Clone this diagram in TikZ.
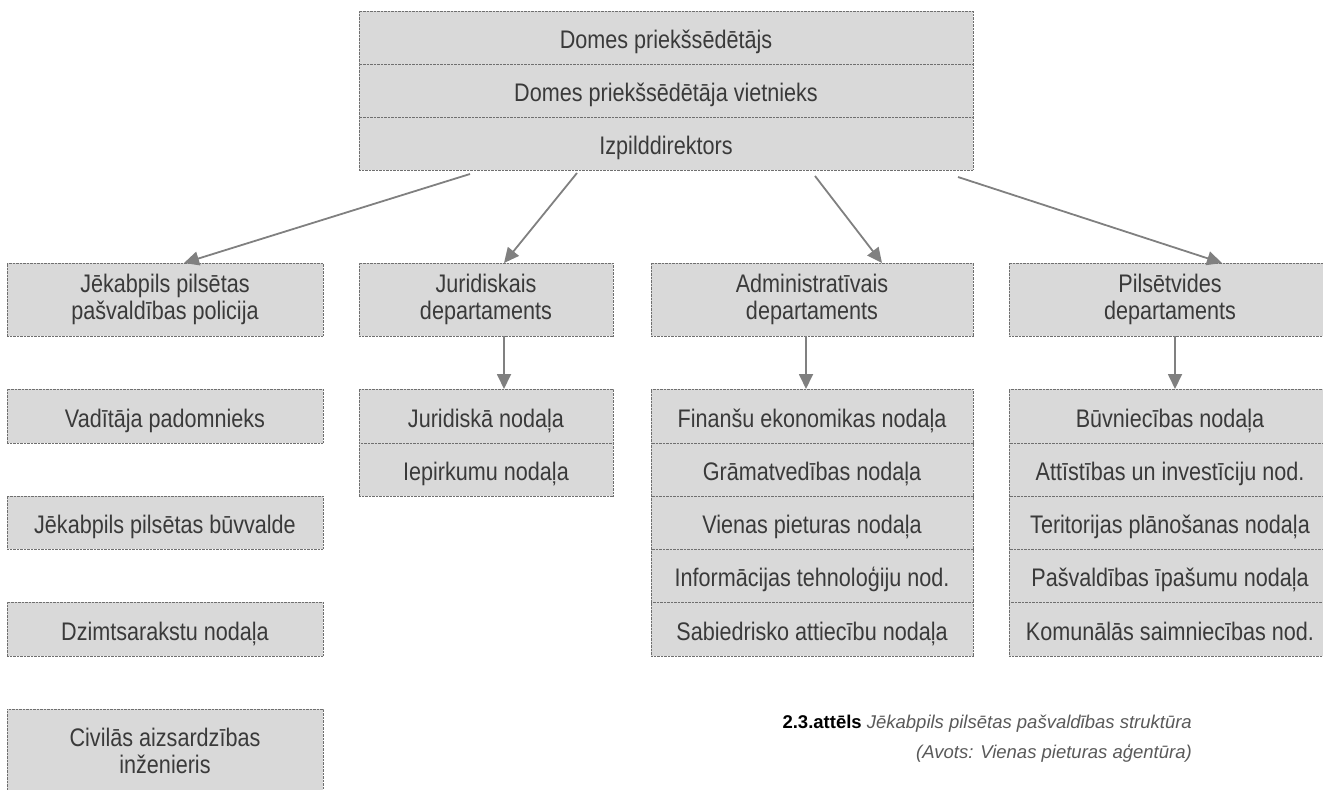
\documentclass[tikz,border=0pt]{standalone}
\usepackage{fontspec}
\setmainfont{Liberation Sans}[FakeStretch=0.85]
\newfontfamily\capfont{Liberation Sans}
\usetikzlibrary{arrows.meta}
\definecolor{boxfill}{HTML}{D9D9D9}
\definecolor{boxline}{HTML}{6F6F6F}
\definecolor{txt}{HTML}{3A3A3A}
\definecolor{arrgray}{HTML}{808080}
\definecolor{capgray}{HTML}{595959}
\begin{document}
\begin{tikzpicture}[x=1pt,y=-1pt,
  box/.style={draw=boxline, fill=boxfill, dash pattern=on 0.7pt off 0.7pt, line width=0.8pt,
    inner sep=0pt, outer sep=0pt, text=txt, font=\fontsize{25.4}{27}\selectfont, align=center, anchor=north west},
  one/.style={text height=26pt, text depth=4pt},
  arr/.style={draw=arrgray, line width=1.8pt, -{Triangle[length=15pt,width=14pt]}},
  captext/.style={anchor=base east, inner sep=0pt, font=\capfont\fontsize{18.5}{22}\selectfont}]
\useasboundingbox (0,0) rectangle (1323,790);
% top block
\node[box,one,minimum width=614pt,minimum height=53pt] (t1) at (359,11) {Domes priekšsēdētājs};
\node[box,one,minimum width=614pt,minimum height=53pt] (t2) at (359,64) {Domes priekšsēdētāja vietnieks};
\node[box,one,minimum width=614pt,minimum height=53pt] (t3) at (359,117) {Izpilddirektors};
% level 2
\node[box,minimum width=316pt,minimum height=73pt] (pol) at (7,263) {Jēkabpils pilsētas\\pašvaldības policija};
\node[box,minimum width=254pt,minimum height=73pt] (jur) at (359,263) {Juridiskais\\departaments};
\node[box,minimum width=322pt,minimum height=73pt] (adm) at (651,263) {Administratīvais\\departaments};
\node[box,minimum width=322pt,minimum height=73pt] (pil) at (1009,263) {Pilsētvides\\departaments};
% left column
\node[box,one,minimum width=316pt,minimum height=54pt] (vp) at (7,389) {Vadītāja padomnieks};
\node[box,one,minimum width=316pt,minimum height=53pt] (bv) at (7,496) {Jēkabpils pilsētas būvvalde};
\node[box,one,minimum width=316pt,minimum height=54pt] (dz) at (7,602) {Dzimtsarakstu nodaļa};
\node[box,minimum width=316pt,minimum height=83pt] (ci) at (7,709) {Civilās aizsardzības\\inženieris};
% juridiskais
\node[box,one,minimum width=254pt,minimum height=54pt] (jn) at (359,389) {Juridiskā nodaļa};
\node[box,one,minimum width=254pt,minimum height=53pt] (ie) at (359,443) {Iepirkumu nodaļa};
% administrativais
\node[box,one,minimum width=322pt,minimum height=54pt] (fe) at (651,389) {Finanšu ekonomikas nodaļa};
\node[box,one,minimum width=322pt,minimum height=53pt] (gr) at (651,443) {Grāmatvedības nodaļa};
\node[box,one,minimum width=322pt,minimum height=53pt] (vi) at (651,496) {Vienas pieturas nodaļa};
\node[box,one,minimum width=322pt,minimum height=53pt] (it) at (651,549) {Informācijas tehnoloģiju nod.};
\node[box,one,minimum width=322pt,minimum height=54pt] (sa) at (651,602) {Sabiedrisko attiecību nodaļa};
% pilsetvides
\node[box,one,minimum width=322pt,minimum height=54pt] (bu) at (1009,389) {Būvniecības nodaļa};
\node[box,one,minimum width=322pt,minimum height=53pt] (ai) at (1009,443) {Attīstības un investīciju nod.};
\node[box,one,minimum width=322pt,minimum height=53pt] (tp) at (1009,496) {Teritorijas plānošanas nodaļa};
\node[box,one,minimum width=322pt,minimum height=53pt] (pi) at (1009,549) {Pašvaldības īpašumu nodaļa};
\node[box,one,minimum width=322pt,minimum height=54pt] (ks) at (1009,602) {Komunālās saimniecības nod.};
% arrows
\draw[arr] ([xshift=111pt,yshift=-4pt]t3.south west) -- ([xshift=177pt]pol.north west);
\draw[arr] ([xshift=218pt,yshift=-3pt]t3.south west) -- ([xshift=145pt]jur.north west);
\draw[arr] ([xshift=456pt,yshift=-6pt]t3.south west) -- ([xshift=231pt]adm.north west);
\draw[arr] ([xshift=599pt,yshift=-7pt]t3.south west) -- ([xshift=213pt]pil.north west);
\draw[arr] ([xshift=145pt]jur.south west) -- ([xshift=145pt]jn.north west);
\draw[arr] ([xshift=155pt]adm.south west) -- ([xshift=155pt]fe.north west);
\draw[arr] ([xshift=166pt]pil.south west) -- ([xshift=166pt]bu.north west);
% caption
\node[captext] (cap1) at (1192,728)
  {\textbf{2.3.attēls} \textcolor{capgray}{\textit{Jēkabpils pilsētas pašvaldības struktūra}}};
\node[captext, text=capgray] (cap2) at (1192,758)
  {\textit{(Avots: Vienas pieturas aģentūra)}};
\end{tikzpicture}
\end{document}
